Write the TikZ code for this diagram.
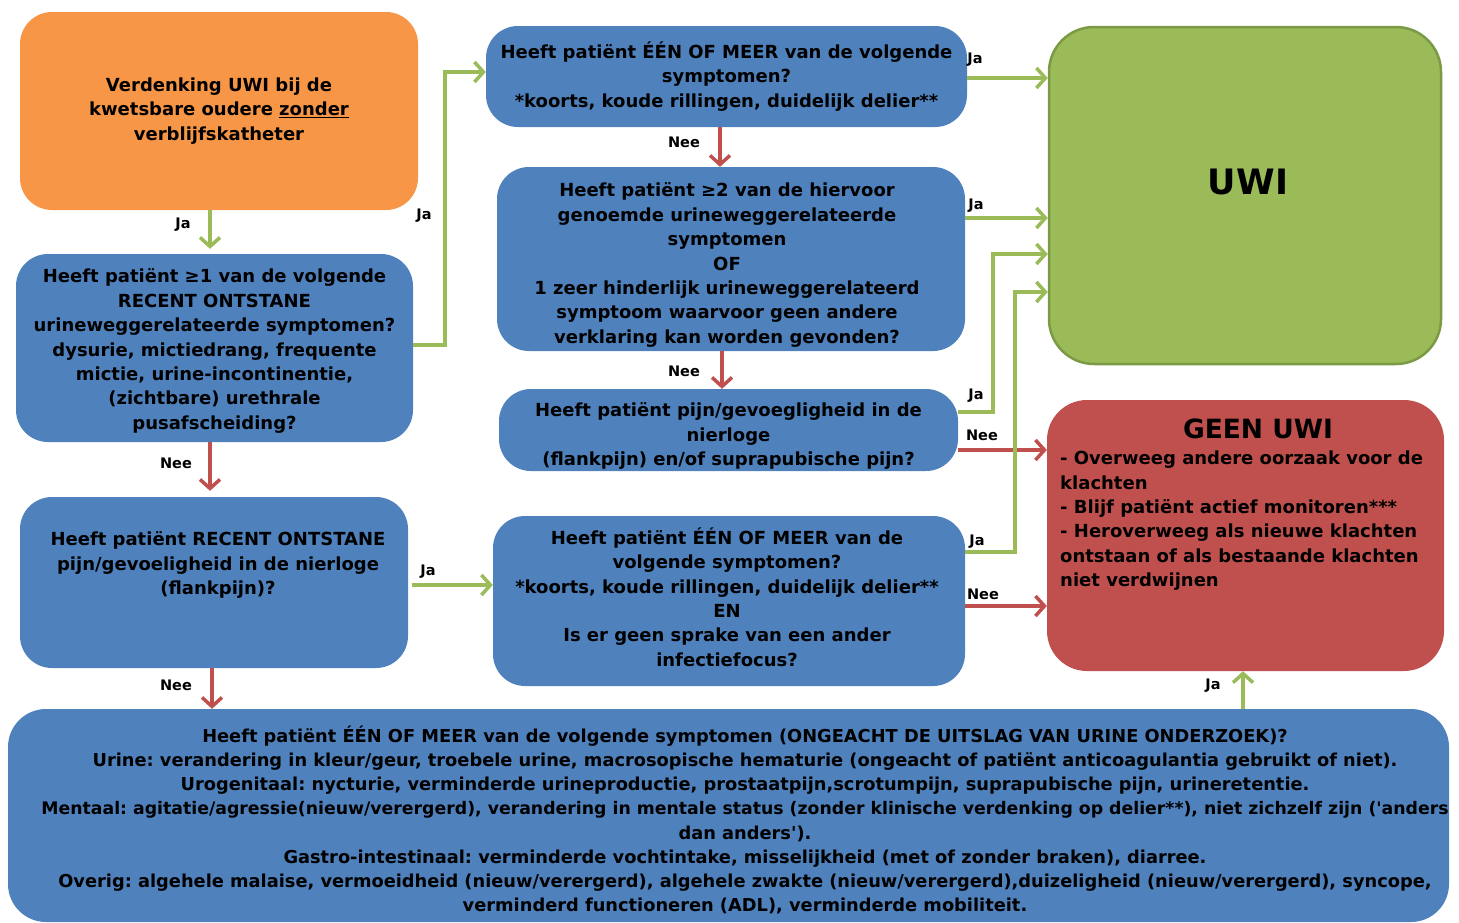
\documentclass[tikz,border=0pt]{standalone}
\usepackage{fontspec}
\setmainfont{DejaVu Sans}
\usetikzlibrary{arrows.meta}
\frenchspacing
\definecolor{uwiblue}{HTML}{4F81BD}
\definecolor{uwigreen}{HTML}{9BBB59}
\definecolor{uwigreenborder}{HTML}{7A9A45}
\definecolor{uwired}{HTML}{C0504D}
\definecolor{uwiorange}{HTML}{F79646}
\definecolor{arrgreen}{HTML}{9BBB59}
\definecolor{arrred}{HTML}{C0504D}
\newcommand\boxfont{\frenchspacing\bfseries\fontsize{18}{24.4}\selectfont}
\newcommand\lblfont{\bfseries\fontsize{14.5}{15}\selectfont}
\newcommand\btmfont{\frenchspacing\bfseries\fontsize{17.8}{24.1}\selectfont}
\begin{document}
\begin{tikzpicture}[x=1pt,y=-1pt,
  box/.style={rounded corners=32pt, inner sep=0pt, align=center, font=\boxfont, text=black},
  bluebox/.style={box, fill=uwiblue},
  lbl/.style={font=\lblfont, inner sep=0pt, text=black},
  garrow/.style={draw=arrgreen, line width=4pt, -{Straight Barb[length=9pt,width=20pt,line width=3.5pt]}},
  rarrow/.style={draw=arrred, line width=4pt, -{Straight Barb[length=9pt,width=20pt,line width=3.5pt]}}
]
\useasboundingbox (0,0) rectangle (1459,922);
\clip (0,0) rectangle (1459,922);

% boxes
\node[box, fill=uwiorange, minimum width=398pt, minimum height=198pt] (orange) at (219,111)
  {Verdenking UWI bij de\\kwetsbare oudere \underline{zonder}\\verblijfskatheter};
\node[bluebox, minimum width=397pt, minimum height=188pt] (blueA) at (214.5,348) {};
\node[box] (blueAtext) at (214.5,351)
  {Heeft patiënt ≥1 van de volgende\\RECENT ONTSTANE\\urineweggerelateerde symptomen?\\dysurie, mictiedrang, frequente\\mictie, urine-incontinentie,\\(zichtbare) urethrale\\pusafscheiding?};
\node[bluebox, minimum width=388pt, minimum height=171pt] (blueB) at (214,582.5) {};
\node[box] (blueBtext) at (218,565)
  {Heeft patiënt RECENT ONTSTANE\\pijn/gevoeligheid in de nierloge\\(flankpijn)?};
\node[bluebox, minimum width=481pt, minimum height=101pt] (mtop) at (726.5,76.5)
  {Heeft patiënt ÉÉN OF MEER van de volgende\\symptomen?\\*koorts, koude rillingen, duidelijk delier**};
\node[bluebox, minimum width=468pt, minimum height=184pt] (mtwo) at (731,259) {};
\node[box] (mtwotext) at (727,265)
  {Heeft patiënt ≥2 van de hiervoor\\genoemde urineweggerelateerde\\symptomen\\OF\\1 zeer hinderlijk urineweggerelateerd\\symptoom waarvoor geen andere\\verklaring kan worden gevonden?};
\node[bluebox, minimum width=459pt, minimum height=82pt] (mthree) at (728.5,430) {};
\node[box] (mthreetext) at (728.5,436)
  {Heeft patiënt pijn/gevoegligheid in de\\nierloge\\(flankpijn) en/of suprapubische pijn?};
\node[bluebox, minimum width=472pt, minimum height=170pt] (mfour) at (729,601) {};
\node[box] (mfourtext) at (727,597)
  {Heeft patiënt ÉÉN OF MEER van de\\volgende symptomen?\\*koorts, koude rillingen, duidelijk delier**\\EN\\Is er geen sprake van een ander\\infectiefocus?};
\node[box, fill=uwigreen, draw=uwigreenborder, line width=2.5pt, rounded corners=45pt, minimum width=392pt, minimum height=337pt] (uwi) at (1245,195.5) {};
\node[font=\bfseries\fontsize{35}{40}\selectfont, inner sep=0pt] (uwitext) at (1248,182) {UWI};
\node[box, fill=uwired, rounded corners=40pt, minimum width=397pt, minimum height=271pt] (geen) at (1245.5,535.5) {};
\node[font=\bfseries\fontsize{26.5}{28}\selectfont, inner sep=0pt] (geentitle) at (1258,429) {GEEN UWI};
\node[font=\frenchspacing\bfseries\fontsize{18}{24.3}\selectfont, align=left, anchor=north west, inner sep=0pt] (geentext) at (1060,451)
  {- Overweeg andere oorzaak voor de\\klachten\\- Blijf patiënt actief monitoren***\\- Heroverweeg als nieuwe klachten\\ontstaan of als bestaande klachten\\niet verdwijnen};
\node[bluebox, rounded corners=38pt, minimum width=1441pt, minimum height=213pt] (bottom) at (728.5,815.5) {};
\node[font=\btmfont, align=center, inner sep=0pt] (bottomtext) at (745,820)
  {Heeft patiënt ÉÉN OF MEER van de volgende symptomen (ONGEACHT DE UITSLAG VAN URINE ONDERZOEK)?\\
   Urine: verandering in kleur/geur, troebele urine, macrosopische hematurie (ongeacht of patiënt anticoagulantia gebruikt of niet).\\
   Urogenitaal: nycturie, verminderde urineproductie, prostaatpijn,scrotumpijn, suprapubische pijn, urineretentie.\\
   {\fontsize{17.3}{24.1}\selectfont Mentaal: agitatie/agressie(nieuw/verergerd), verandering in mentale status (zonder klinische verdenking op delier**), niet zichzelf zijn (\textquotesingle anders}\\
   dan anders\textquotesingle).\\
   Gastro-intestinaal: verminderde vochtintake, misselijkheid (met of zonder braken), diarree.\\
   Overig: algehele malaise, vermoeidheid (nieuw/verergerd), algehele zwakte (nieuw/verergerd),duizeligheid (nieuw/verergerd), syncope,\\
   verminderd functioneren (ADL), verminderde mobiliteit.};

% connectors
\draw[garrow, shorten >=5pt] ([xshift=-9pt]orange.south) -- ([xshift=-9pt]orange.south |- blueA.north);
\node[lbl] (l1) at (183,225) {Ja};
\draw[garrow] ([yshift=3pt]blueA.east) -- ++(32,0) |- ([yshift=4.5pt]mtop.west);
\node[lbl] (l2) at (424,216) {Ja};
\draw[rarrow, shorten >=6pt] ([xshift=-4.5pt]blueA.south) -- ([xshift=-4.5pt]blueA.south |- blueB.north);
\node[lbl] (l3) at (176,463) {Nee};
\draw[garrow, shorten <=4pt] ([yshift=-2.5pt]blueB.east) -- ([yshift=-2.5pt]blueB.east -| mfour.west);
\node[lbl] (l4) at (428,572) {Ja};
\draw[rarrow] ([xshift=-2pt]blueB.south) -- ([xshift=-2pt]blueB.south |- bottom.north);
\node[lbl] (l5) at (176,685) {Nee};
\draw[garrow] ([yshift=-1.5pt]mtop.east) -- ([yshift=-1.5pt]mtop.east -| uwi.west);
\node[lbl] (l6) at (975,60) {Ja};
\draw[rarrow] ([xshift=-6.5pt]mtop.south) -- ([xshift=-6.5pt]mtop.south |- mtwo.north);
\node[lbl] (l7) at (684,142) {Nee};
\draw[garrow] ([yshift=41pt]mtwo.east) -- ([yshift=41pt]mtwo.east -| uwi.west);
\node[lbl] (l8) at (976,206) {Ja};
\draw[rarrow] ([xshift=-6.5pt]mthree.north |- mtwo.south) -- ([xshift=-6.5pt]mthree.north);
\node[lbl] (l9) at (684,371) {Nee};
\draw[garrow] ([yshift=18pt]mthree.east) -- ++(35,0) |- ([yshift=-58.5pt]uwi.west);
\node[lbl] (l10) at (976,396) {Ja};
\draw[rarrow] ([yshift=-20pt]mthree.east) -- ([yshift=-20pt]mthree.east -| geen.west);
\node[lbl] (l11) at (982,435) {Nee};
\draw[garrow] ([yshift=49pt]mfour.east) -- ++(50,0) |- ([yshift=-96.5pt]uwi.west);
\node[lbl] (l12) at (977,542) {Ja};
\draw[rarrow] ([yshift=-5pt]mfour.east) -- ([yshift=-5pt]mfour.east -| geen.west);
\node[lbl] (l13) at (983,594) {Nee};
\draw[garrow] ([xshift=-2.5pt]geen.south |- bottom.north) -- ([xshift=-2.5pt]geen.south);
\node[lbl] (l14) at (1213,686) {Ja};
\end{tikzpicture}
\end{document}
